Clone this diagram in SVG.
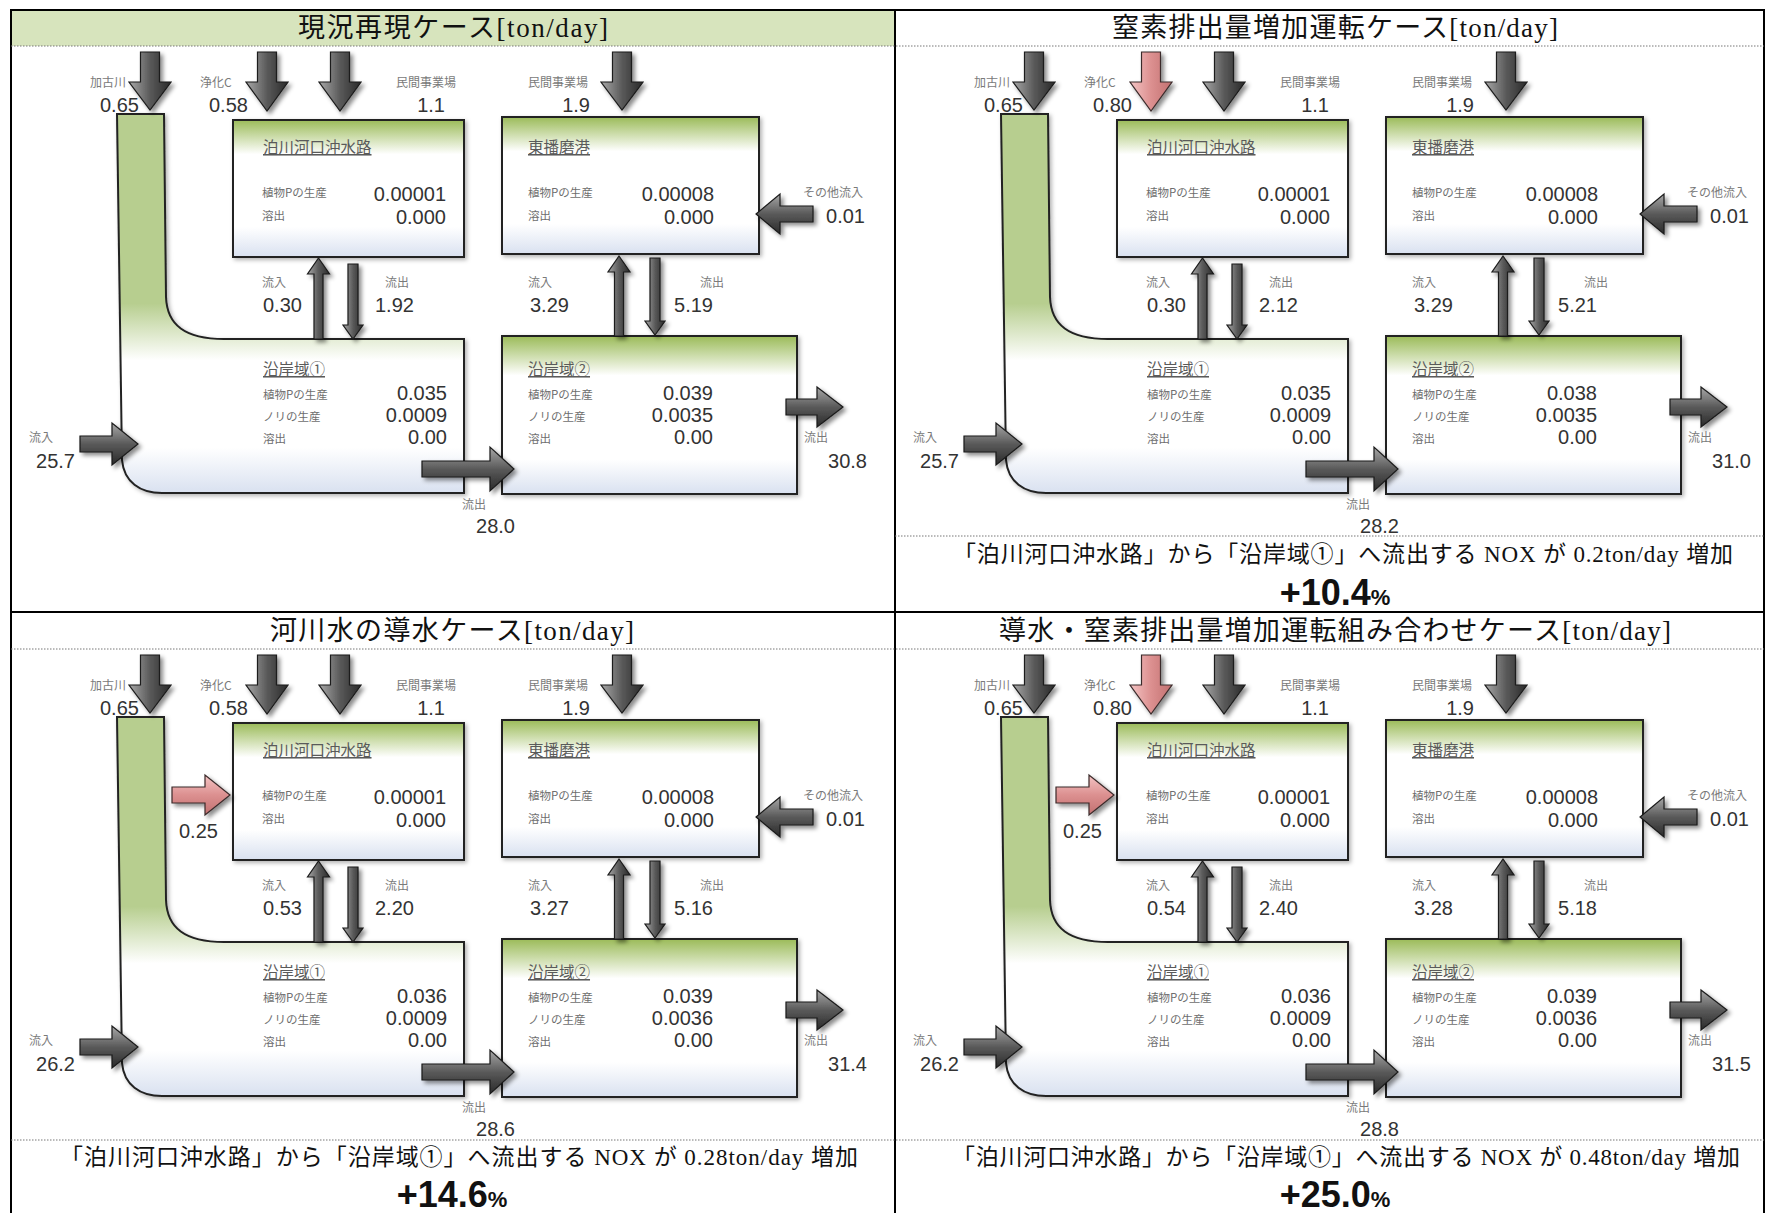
<svg xmlns="http://www.w3.org/2000/svg" width="1766" height="1213" viewBox="0 0 1766 1213">
<defs>
<linearGradient id="gV" x1="0" y1="0" x2="1" y2="0"><stop offset="0" stop-color="#a8a8a8"/><stop offset="0.5" stop-color="#5a5a5a"/><stop offset="1" stop-color="#2a2a2a"/></linearGradient>
<linearGradient id="gH" x1="0" y1="0" x2="0" y2="1"><stop offset="0" stop-color="#a8a8a8"/><stop offset="0.5" stop-color="#5a5a5a"/><stop offset="1" stop-color="#2a2a2a"/></linearGradient>
<linearGradient id="pV" x1="0" y1="0" x2="1" y2="0"><stop offset="0" stop-color="#f4c4c4"/><stop offset="0.5" stop-color="#dc9090"/><stop offset="1" stop-color="#c27070"/></linearGradient>
<linearGradient id="pH" x1="0" y1="0" x2="0" y2="1"><stop offset="0" stop-color="#f4c4c4"/><stop offset="0.5" stop-color="#dc9090"/><stop offset="1" stop-color="#c27070"/></linearGradient>
<linearGradient id="gBox" x1="0" y1="0" x2="0" y2="1"><stop offset="0" stop-color="#9bbb59"/><stop offset="0.25" stop-color="#ffffff"/><stop offset="0.78" stop-color="#ffffff"/><stop offset="1" stop-color="#d9e1f0"/></linearGradient>
<linearGradient id="gL" gradientUnits="userSpaceOnUse" x1="0" y1="114" x2="0" y2="493"><stop offset="0" stop-color="#b7ce8f"/><stop offset="0.5" stop-color="#b7ce8f"/><stop offset="0.65" stop-color="#ffffff"/><stop offset="0.88" stop-color="#ffffff"/><stop offset="1" stop-color="#d9e1f0"/></linearGradient>
<filter id="sh" x="-30%" y="-30%" width="170%" height="170%"><feDropShadow dx="3" dy="3" stdDeviation="2.2" flood-color="#000" flood-opacity="0.45"/></filter>
<filter id="shb" x="-10%" y="-10%" width="125%" height="125%"><feDropShadow dx="2" dy="2" stdDeviation="2" flood-color="#000" flood-opacity="0.3"/></filter>
<style>
text{font-family:"Noto Sans CJK JP",sans-serif}
.lb{font-size:12px;fill:#7a7a7a}
.sl{font-size:11.5px;fill:#6e6e6e}
.nt{font-size:15.5px;fill:#5a5a5a;text-decoration:underline}
.n{font-family:"Liberation Sans",Arial,sans-serif;font-size:20px;fill:#333}
.e{text-anchor:end}
.bx{fill:url(#gBox);stroke:#222;stroke-width:2;filter:url(#shb)}
.lsh{fill:url(#gL);stroke:#222;stroke-width:2;filter:url(#shb)}
.ad{fill:url(#gV);stroke:#1a1a1a;stroke-width:1.2;filter:url(#sh)}
.ah{fill:url(#gH);stroke:#1a1a1a;stroke-width:1.2;filter:url(#sh)}
.pd{fill:url(#pV);stroke:#3a2a2a;stroke-width:1.2;filter:url(#sh)}
.ph{fill:url(#pH);stroke:#3a2a2a;stroke-width:1.2;filter:url(#sh)}
.hd{font-family:"Liberation Serif","Noto Sans CJK JP",serif;font-size:27px;fill:#111;text-anchor:middle}
.cp{font-family:"Liberation Serif","Noto Sans CJK JP",serif;font-size:23px;fill:#111;text-anchor:middle}
.pc{font-family:"Liberation Sans",Arial,sans-serif;font-weight:bold;fill:#111;text-anchor:middle}
.dot{stroke:#777;stroke-width:1;stroke-dasharray:1.5 1.5;fill:none}
.frm{stroke:#000;stroke-width:2;fill:none}
</style>
</defs>
<rect x="0" y="0" width="1766" height="1213" fill="#fff"/>
<g id="frame">
<rect x="11" y="10" width="884" height="36" fill="#d7e4bd"/>
<rect class="frm" x="11" y="10" width="1753" height="1210"/>
<line class="frm" x1="895" y1="10" x2="895" y2="1213"/>
<line class="frm" x1="11" y1="612" x2="1764" y2="612"/>
<line class="dot" x1="11" y1="46" x2="1764" y2="46"/>
<line class="dot" x1="11" y1="649" x2="1764" y2="649"/>
<line class="dot" x1="895" y1="536" x2="1764" y2="536"/>
<line class="dot" x1="11" y1="1140" x2="1764" y2="1140"/>
<text class="hd" x="453" y="37" textLength="310">現況再現ケース[ton/day]</text>
<text class="hd" x="1335" y="37" textLength="446">窒素排出量増加運転ケース[ton/day]</text>
<text class="hd" x="452" y="640" textLength="364">河川水の導水ケース[ton/day]</text>
<text class="hd" x="1335" y="640" textLength="672">導水・窒素排出量増加運転組み合わせケース[ton/day]</text>
<text class="cp" x="1343" y="562" textLength="780">「泊川河口沖水路」から「沿岸域①」へ流出する NOX が 0.2ton/day 増加</text>
<text class="cp" x="459" y="1165" textLength="798">「泊川河口沖水路」から「沿岸域①」へ流出する NOX が 0.28ton/day 増加</text>
<text class="cp" x="1346" y="1165" textLength="788">「泊川河口沖水路」から「沿岸域①」へ流出する NOX が 0.48ton/day 増加</text>
<text class="pc" x="1335" y="605"><tspan font-size="36">+10.4</tspan><tspan font-size="22">%</tspan></text>
<text class="pc" x="452" y="1207"><tspan font-size="36">+14.6</tspan><tspan font-size="22">%</tspan></text>
<text class="pc" x="1335" y="1207"><tspan font-size="36">+25.0</tspan><tspan font-size="22">%</tspan></text>
</g>

<g id="panel-tl">
<g id="tl-coast1"><path class="lsh" d="M117,114 L164,114 L166,297 C167,325 185,339 224,339 L464,339 L464,493 L162,493 C140,493 124,482 122,460 Z"/>
<text class="nt" x="263" y="375">沿岸域①</text><text class="sl" x="263" y="399">植物Pの生産</text><text class="n e" x="447" y="400">0.035</text><text class="sl" x="263" y="421">ノリの生産</text><text class="n e" x="447" y="422">0.0009</text><text class="sl" x="263" y="443">溶出</text><text class="n e" x="447" y="444">0.00</text></g>
<g id="tl-hakugawa"><rect class="bx" x="233" y="120" width="231" height="137"/>
<text class="nt" x="263" y="153">泊川河口沖水路</text><text class="sl" x="262" y="197">植物Pの生産</text><text class="n e" x="446" y="201">0.00001</text><text class="sl" x="262" y="220">溶出</text><text class="n e" x="446" y="224">0.000</text></g>
<g id="tl-higashiharima"><rect class="bx" x="502" y="117" width="257" height="137"/>
<text class="nt" x="528" y="153">東播磨港</text><text class="sl" x="528" y="197">植物Pの生産</text><text class="n e" x="714" y="201">0.00008</text><text class="sl" x="528" y="220">溶出</text><text class="n e" x="714" y="224">0.000</text></g>
<g id="tl-coast2"><rect class="bx" x="502" y="336" width="295" height="158"/>
<text class="nt" x="528" y="375">沿岸域②</text><text class="sl" x="528" y="399">植物Pの生産</text><text class="n e" x="713" y="400">0.039</text><text class="sl" x="528" y="421">ノリの生産</text><text class="n e" x="713" y="422">0.0035</text><text class="sl" x="528" y="443">溶出</text><text class="n e" x="713" y="444">0.00</text></g>
</g>

<g id="panel-tr" transform="translate(884,0)">
<g id="tr-coast1"><path class="lsh" d="M117,114 L164,114 L166,297 C167,325 185,339 224,339 L464,339 L464,493 L162,493 C140,493 124,482 122,460 Z"/>
<text class="nt" x="263" y="375">沿岸域①</text><text class="sl" x="263" y="399">植物Pの生産</text><text class="n e" x="447" y="400">0.035</text><text class="sl" x="263" y="421">ノリの生産</text><text class="n e" x="447" y="422">0.0009</text><text class="sl" x="263" y="443">溶出</text><text class="n e" x="447" y="444">0.00</text></g>
<g id="tr-hakugawa"><rect class="bx" x="233" y="120" width="231" height="137"/>
<text class="nt" x="263" y="153">泊川河口沖水路</text><text class="sl" x="262" y="197">植物Pの生産</text><text class="n e" x="446" y="201">0.00001</text><text class="sl" x="262" y="220">溶出</text><text class="n e" x="446" y="224">0.000</text></g>
<g id="tr-higashiharima"><rect class="bx" x="502" y="117" width="257" height="137"/>
<text class="nt" x="528" y="153">東播磨港</text><text class="sl" x="528" y="197">植物Pの生産</text><text class="n e" x="714" y="201">0.00008</text><text class="sl" x="528" y="220">溶出</text><text class="n e" x="714" y="224">0.000</text></g>
<g id="tr-coast2"><rect class="bx" x="502" y="336" width="295" height="158"/>
<text class="nt" x="528" y="375">沿岸域②</text><text class="sl" x="528" y="399">植物Pの生産</text><text class="n e" x="713" y="400">0.038</text><text class="sl" x="528" y="421">ノリの生産</text><text class="n e" x="713" y="422">0.0035</text><text class="sl" x="528" y="443">溶出</text><text class="n e" x="713" y="444">0.00</text></g>
</g>

<g id="panel-bl" transform="translate(0,603)">
<g id="bl-coast1"><path class="lsh" d="M117,114 L164,114 L166,297 C167,325 185,339 224,339 L464,339 L464,493 L162,493 C140,493 124,482 122,460 Z"/>
<text class="nt" x="263" y="375">沿岸域①</text><text class="sl" x="263" y="399">植物Pの生産</text><text class="n e" x="447" y="400">0.036</text><text class="sl" x="263" y="421">ノリの生産</text><text class="n e" x="447" y="422">0.0009</text><text class="sl" x="263" y="443">溶出</text><text class="n e" x="447" y="444">0.00</text></g>
<g id="bl-hakugawa"><rect class="bx" x="233" y="120" width="231" height="137"/>
<text class="nt" x="263" y="153">泊川河口沖水路</text><text class="sl" x="262" y="197">植物Pの生産</text><text class="n e" x="446" y="201">0.00001</text><text class="sl" x="262" y="220">溶出</text><text class="n e" x="446" y="224">0.000</text></g>
<g id="bl-higashiharima"><rect class="bx" x="502" y="117" width="257" height="137"/>
<text class="nt" x="528" y="153">東播磨港</text><text class="sl" x="528" y="197">植物Pの生産</text><text class="n e" x="714" y="201">0.00008</text><text class="sl" x="528" y="220">溶出</text><text class="n e" x="714" y="224">0.000</text></g>
<g id="bl-coast2"><rect class="bx" x="502" y="336" width="295" height="158"/>
<text class="nt" x="528" y="375">沿岸域②</text><text class="sl" x="528" y="399">植物Pの生産</text><text class="n e" x="713" y="400">0.039</text><text class="sl" x="528" y="421">ノリの生産</text><text class="n e" x="713" y="422">0.0036</text><text class="sl" x="528" y="443">溶出</text><text class="n e" x="713" y="444">0.00</text></g>
</g>

<g id="panel-br" transform="translate(884,603)">
<g id="br-coast1"><path class="lsh" d="M117,114 L164,114 L166,297 C167,325 185,339 224,339 L464,339 L464,493 L162,493 C140,493 124,482 122,460 Z"/>
<text class="nt" x="263" y="375">沿岸域①</text><text class="sl" x="263" y="399">植物Pの生産</text><text class="n e" x="447" y="400">0.036</text><text class="sl" x="263" y="421">ノリの生産</text><text class="n e" x="447" y="422">0.0009</text><text class="sl" x="263" y="443">溶出</text><text class="n e" x="447" y="444">0.00</text></g>
<g id="br-hakugawa"><rect class="bx" x="233" y="120" width="231" height="137"/>
<text class="nt" x="263" y="153">泊川河口沖水路</text><text class="sl" x="262" y="197">植物Pの生産</text><text class="n e" x="446" y="201">0.00001</text><text class="sl" x="262" y="220">溶出</text><text class="n e" x="446" y="224">0.000</text></g>
<g id="br-higashiharima"><rect class="bx" x="502" y="117" width="257" height="137"/>
<text class="nt" x="528" y="153">東播磨港</text><text class="sl" x="528" y="197">植物Pの生産</text><text class="n e" x="714" y="201">0.00008</text><text class="sl" x="528" y="220">溶出</text><text class="n e" x="714" y="224">0.000</text></g>
<g id="br-coast2"><rect class="bx" x="502" y="336" width="295" height="158"/>
<text class="nt" x="528" y="375">沿岸域②</text><text class="sl" x="528" y="399">植物Pの生産</text><text class="n e" x="713" y="400">0.039</text><text class="sl" x="528" y="421">ノリの生産</text><text class="n e" x="713" y="422">0.0036</text><text class="sl" x="528" y="443">溶出</text><text class="n e" x="713" y="444">0.00</text></g>
</g>

<g id="connectors">
<g id="tl-flows">
<path class="ad" d="M140.5,52 L159.5,52 L159.5,82 L171,82 L150,110 L129,82 L140.5,82 Z"/>
<path class="ad" d="M257.5,52 L276.5,52 L276.5,82 L288,82 L267,111 L246,82 L257.5,82 Z"/>
<path class="ad" d="M330.5,52 L349.5,52 L349.5,82 L361,82 L340,111 L319,82 L330.5,82 Z"/>
<path class="ad" d="M612.5,52 L631.5,52 L631.5,82 L643,82 L622,110 L601,82 L612.5,82 Z"/>
<path class="ah" d="M813,206 L780,206 L780,194 L756,214 L780,234 L780,222 L813,222 Z"/>
<path class="ad" d="M314,339 L314,274 L307.5,274 L318.5,258 L329.5,274 L323,274 L323,339 Z"/>
<path class="ad" d="M348,264 L358,264 L358,325 L363,325 L353,339 L343,325 L348,325 Z"/>
<path class="ad" d="M614.5,336 L614.5,272 L608,272 L619,256 L630,272 L623.5,272 L623.5,336 Z"/>
<path class="ad" d="M650,258 L660,258 L660,321 L665,321 L655,335 L645,321 L650,321 Z"/>
<path class="ah" d="M80,436 L112,436 L112,423 L138,444 L112,465 L112,452 L80,452 Z"/>
<path class="ah" d="M422,461 L490,461 L490,447 L514,469 L490,491 L490,477 L422,477 Z"/>
<path class="ah" d="M786,399 L817,399 L817,387 L843,407 L817,427 L817,415 L786,415 Z"/>
<text class="lb" x="90" y="87">加古川</text><text class="n" x="100" y="112">0.65</text>
<text class="lb" x="200" y="87">浄化C</text><text class="n" x="209" y="112">0.58</text>
<text class="lb" x="396" y="87">民間事業場</text><text class="n e" x="445" y="112">1.1</text>
<text class="lb" x="528" y="87">民間事業場</text><text class="n e" x="590" y="112">1.9</text>
<text class="lb" x="803" y="197">その他流入</text><text class="n e" x="865" y="223">0.01</text>
<text class="lb" x="262" y="287">流入</text><text class="n" x="263" y="312">0.30</text>
<text class="lb" x="385" y="287">流出</text><text class="n" x="375" y="312">1.92</text>
<text class="lb" x="528" y="287">流入</text><text class="n" x="530" y="312">3.29</text>
<text class="lb" x="700" y="287">流出</text><text class="n e" x="713" y="312">5.19</text>
<text class="lb" x="29" y="442">流入</text><text class="n e" x="75" y="468">25.7</text>
<text class="lb" x="462" y="509">流出</text><text class="n e" x="515" y="533">28.0</text>
<text class="lb" x="804" y="442">流出</text><text class="n e" x="867" y="468">30.8</text>
</g>
<g id="tr-flows" transform="translate(884,0)">
<path class="ad" d="M140.5,52 L159.5,52 L159.5,82 L171,82 L150,110 L129,82 L140.5,82 Z"/>
<path class="pd" d="M257.5,52 L276.5,52 L276.5,82 L288,82 L267,111 L246,82 L257.5,82 Z"/>
<path class="ad" d="M330.5,52 L349.5,52 L349.5,82 L361,82 L340,111 L319,82 L330.5,82 Z"/>
<path class="ad" d="M612.5,52 L631.5,52 L631.5,82 L643,82 L622,110 L601,82 L612.5,82 Z"/>
<path class="ah" d="M813,206 L780,206 L780,194 L756,214 L780,234 L780,222 L813,222 Z"/>
<path class="ad" d="M314,339 L314,274 L307.5,274 L318.5,258 L329.5,274 L323,274 L323,339 Z"/>
<path class="ad" d="M348,264 L358,264 L358,325 L363,325 L353,339 L343,325 L348,325 Z"/>
<path class="ad" d="M614.5,336 L614.5,272 L608,272 L619,256 L630,272 L623.5,272 L623.5,336 Z"/>
<path class="ad" d="M650,258 L660,258 L660,321 L665,321 L655,335 L645,321 L650,321 Z"/>
<path class="ah" d="M80,436 L112,436 L112,423 L138,444 L112,465 L112,452 L80,452 Z"/>
<path class="ah" d="M422,461 L490,461 L490,447 L514,469 L490,491 L490,477 L422,477 Z"/>
<path class="ah" d="M786,399 L817,399 L817,387 L843,407 L817,427 L817,415 L786,415 Z"/>
<text class="lb" x="90" y="87">加古川</text><text class="n" x="100" y="112">0.65</text>
<text class="lb" x="200" y="87">浄化C</text><text class="n" x="209" y="112">0.80</text>
<text class="lb" x="396" y="87">民間事業場</text><text class="n e" x="445" y="112">1.1</text>
<text class="lb" x="528" y="87">民間事業場</text><text class="n e" x="590" y="112">1.9</text>
<text class="lb" x="803" y="197">その他流入</text><text class="n e" x="865" y="223">0.01</text>
<text class="lb" x="262" y="287">流入</text><text class="n" x="263" y="312">0.30</text>
<text class="lb" x="385" y="287">流出</text><text class="n" x="375" y="312">2.12</text>
<text class="lb" x="528" y="287">流入</text><text class="n" x="530" y="312">3.29</text>
<text class="lb" x="700" y="287">流出</text><text class="n e" x="713" y="312">5.21</text>
<text class="lb" x="29" y="442">流入</text><text class="n e" x="75" y="468">25.7</text>
<text class="lb" x="462" y="509">流出</text><text class="n e" x="515" y="533">28.2</text>
<text class="lb" x="804" y="442">流出</text><text class="n e" x="867" y="468">31.0</text>
</g>
<g id="bl-flows" transform="translate(0,603)">
<path class="ad" d="M140.5,52 L159.5,52 L159.5,82 L171,82 L150,110 L129,82 L140.5,82 Z"/>
<path class="ad" d="M257.5,52 L276.5,52 L276.5,82 L288,82 L267,111 L246,82 L257.5,82 Z"/>
<path class="ad" d="M330.5,52 L349.5,52 L349.5,82 L361,82 L340,111 L319,82 L330.5,82 Z"/>
<path class="ad" d="M612.5,52 L631.5,52 L631.5,82 L643,82 L622,110 L601,82 L612.5,82 Z"/>
<path class="ph" d="M172,184 L205,184 L205,172 L230,192 L205,212 L205,200 L172,200 Z"/>
<path class="ah" d="M813,206 L780,206 L780,194 L756,214 L780,234 L780,222 L813,222 Z"/>
<path class="ad" d="M314,339 L314,274 L307.5,274 L318.5,258 L329.5,274 L323,274 L323,339 Z"/>
<path class="ad" d="M348,264 L358,264 L358,325 L363,325 L353,339 L343,325 L348,325 Z"/>
<path class="ad" d="M614.5,336 L614.5,272 L608,272 L619,256 L630,272 L623.5,272 L623.5,336 Z"/>
<path class="ad" d="M650,258 L660,258 L660,321 L665,321 L655,335 L645,321 L650,321 Z"/>
<path class="ah" d="M80,436 L112,436 L112,423 L138,444 L112,465 L112,452 L80,452 Z"/>
<path class="ah" d="M422,461 L490,461 L490,447 L514,469 L490,491 L490,477 L422,477 Z"/>
<path class="ah" d="M786,399 L817,399 L817,387 L843,407 L817,427 L817,415 L786,415 Z"/>
<text class="lb" x="90" y="87">加古川</text><text class="n" x="100" y="112">0.65</text>
<text class="lb" x="200" y="87">浄化C</text><text class="n" x="209" y="112">0.58</text>
<text class="lb" x="396" y="87">民間事業場</text><text class="n e" x="445" y="112">1.1</text>
<text class="lb" x="528" y="87">民間事業場</text><text class="n e" x="590" y="112">1.9</text>
<text class="n" x="179" y="235">0.25</text>
<text class="lb" x="803" y="197">その他流入</text><text class="n e" x="865" y="223">0.01</text>
<text class="lb" x="262" y="287">流入</text><text class="n" x="263" y="312">0.53</text>
<text class="lb" x="385" y="287">流出</text><text class="n" x="375" y="312">2.20</text>
<text class="lb" x="528" y="287">流入</text><text class="n" x="530" y="312">3.27</text>
<text class="lb" x="700" y="287">流出</text><text class="n e" x="713" y="312">5.16</text>
<text class="lb" x="29" y="442">流入</text><text class="n e" x="75" y="468">26.2</text>
<text class="lb" x="462" y="509">流出</text><text class="n e" x="515" y="533">28.6</text>
<text class="lb" x="804" y="442">流出</text><text class="n e" x="867" y="468">31.4</text>
</g>
<g id="br-flows" transform="translate(884,603)">
<path class="ad" d="M140.5,52 L159.5,52 L159.5,82 L171,82 L150,110 L129,82 L140.5,82 Z"/>
<path class="pd" d="M257.5,52 L276.5,52 L276.5,82 L288,82 L267,111 L246,82 L257.5,82 Z"/>
<path class="ad" d="M330.5,52 L349.5,52 L349.5,82 L361,82 L340,111 L319,82 L330.5,82 Z"/>
<path class="ad" d="M612.5,52 L631.5,52 L631.5,82 L643,82 L622,110 L601,82 L612.5,82 Z"/>
<path class="ph" d="M172,184 L205,184 L205,172 L230,192 L205,212 L205,200 L172,200 Z"/>
<path class="ah" d="M813,206 L780,206 L780,194 L756,214 L780,234 L780,222 L813,222 Z"/>
<path class="ad" d="M314,339 L314,274 L307.5,274 L318.5,258 L329.5,274 L323,274 L323,339 Z"/>
<path class="ad" d="M348,264 L358,264 L358,325 L363,325 L353,339 L343,325 L348,325 Z"/>
<path class="ad" d="M614.5,336 L614.5,272 L608,272 L619,256 L630,272 L623.5,272 L623.5,336 Z"/>
<path class="ad" d="M650,258 L660,258 L660,321 L665,321 L655,335 L645,321 L650,321 Z"/>
<path class="ah" d="M80,436 L112,436 L112,423 L138,444 L112,465 L112,452 L80,452 Z"/>
<path class="ah" d="M422,461 L490,461 L490,447 L514,469 L490,491 L490,477 L422,477 Z"/>
<path class="ah" d="M786,399 L817,399 L817,387 L843,407 L817,427 L817,415 L786,415 Z"/>
<text class="lb" x="90" y="87">加古川</text><text class="n" x="100" y="112">0.65</text>
<text class="lb" x="200" y="87">浄化C</text><text class="n" x="209" y="112">0.80</text>
<text class="lb" x="396" y="87">民間事業場</text><text class="n e" x="445" y="112">1.1</text>
<text class="lb" x="528" y="87">民間事業場</text><text class="n e" x="590" y="112">1.9</text>
<text class="n" x="179" y="235">0.25</text>
<text class="lb" x="803" y="197">その他流入</text><text class="n e" x="865" y="223">0.01</text>
<text class="lb" x="262" y="287">流入</text><text class="n" x="263" y="312">0.54</text>
<text class="lb" x="385" y="287">流出</text><text class="n" x="375" y="312">2.40</text>
<text class="lb" x="528" y="287">流入</text><text class="n" x="530" y="312">3.28</text>
<text class="lb" x="700" y="287">流出</text><text class="n e" x="713" y="312">5.18</text>
<text class="lb" x="29" y="442">流入</text><text class="n e" x="75" y="468">26.2</text>
<text class="lb" x="462" y="509">流出</text><text class="n e" x="515" y="533">28.8</text>
<text class="lb" x="804" y="442">流出</text><text class="n e" x="867" y="468">31.5</text>
</g>
</g>
</svg>
